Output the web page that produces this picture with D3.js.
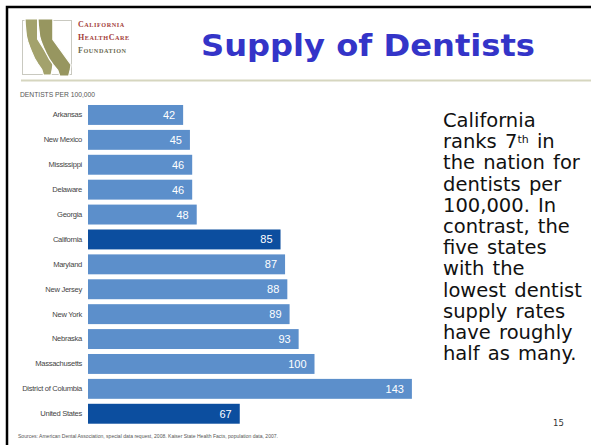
<!DOCTYPE html>
<html>
<head>
<meta charset="utf-8">
<script src="https://cdn.jsdelivr.net/npm/d3@7"></script>
<style>
  html, body { margin: 0; padding: 0; background: #fff; }
  svg { display: block; }
</style>
</head>
<body>
<svg id="slide" width="591" height="445"></svg>
<script>
// Dentists per 100,000 population, by state
const states = ["Arkansas", "New Mexico", "Mississippi", "Delaware", "Georgia", "California",
  "Maryland", "New Jersey", "New York", "Nebraska", "Massachusetts", "District of Columbia", "United States"];
const dentistsPer100k = [42, 45, 46, 46, 48, 85, 87, 88, 89, 93, 100, 143, 67];
const highlighted = ["California", "United States"];

const bodyLines = ["California", "ranks 7|th| in", "the nation for", "dentists per", "100,000. In",
  "contrast, the", "five states", "with the", "lowest dentist", "supply rates", "have roughly", "half as many."];

const data = states.map((s, i) => ({ state: s, value: dentistsPer100k[i] }));

const svg = d3.select("#slide");

// slide frame
svg.append("rect").attr("x", 7).attr("y", 7).attr("width", 600).attr("height", 460)
  .attr("fill", "none").attr("stroke", "#000").attr("stroke-width", 2.5);
svg.append("line").attr("x1", 21).attr("x2", 591).attr("y1", 80.5).attr("y2", 80.5)
  .attr("stroke", "#d6d6bf").attr("stroke-width", 2);

// foundation logo: frame plus two overlapping outlines of the state
const logo = svg.append("g");
logo.append("rect").attr("x", 22.5).attr("y", 20.5).attr("width", 49).attr("height", 54)
  .attr("fill", "none").attr("stroke", "#c9c9c0").attr("stroke-width", 1);
const caOutline = [[0, 0], [0.45, 0], [0.45, 0.36], [1, 0.8], [0.98, 0.88], [0.93, 1], [0.66, 1],
  [0.6, 0.9], [0.46, 0.8], [0.34, 0.7], [0.25, 0.6], [0.17, 0.5], [0.1, 0.4], [0.05, 0.3],
  [0.03, 0.2], [0.01, 0.1]];
function drawState(x0, y0, w, h, fill) {
  logo.append("path")
    .attr("d", d3.line()(caOutline.map(([u, v]) => [x0 + u * w, y0 + v * h])) + "Z")
    .attr("fill", fill).attr("stroke", "#fff").attr("stroke-width", 1.2);
}
drawState(25, 19, 28, 56, "#a3a26c");
drawState(38, 19, 33, 57, "#979660");
[["California", 27, "#a3403a"], ["HealthCare", 39.5, "#a3403a"], ["Foundation", 52.5, "#6a6a50"]].forEach(([t, y, c]) => {
  const tx = logo.append("text").attr("x", 78).attr("y", y)
    .attr("font-family", "'Liberation Serif', serif").attr("font-weight", "bold")
    .attr("letter-spacing", 0.55).attr("fill", c);
  // small caps: capital letters larger than the rest
  t.split("").forEach(ch => {
    const cap = ch === ch.toUpperCase();
    tx.append("tspan").attr("font-size", cap ? 8 : 6.2).text(ch.toUpperCase());
  });
});

// title
svg.append("text").attr("x", 201).attr("y", 56)
  .attr("font-family", "'DejaVu Sans', Verdana, sans-serif").attr("font-weight", "bold")
  .attr("font-size", 30).attr("fill", "#3434c8")
  .attr("textLength", 334).attr("lengthAdjust", "spacingAndGlyphs")
  .text("Supply of Dentists");

// chart
const x = d3.scaleLinear().domain([0, 143]).range([88, 411.9]);
const y = d3.scaleBand().domain(states).range([102.5, 426.2]).paddingInner(0.2).paddingOuter(0.1);

svg.append("text").attr("x", 20).attr("y", 97).text("DENTISTS PER 100,000")
  .attr("font-family", "'Liberation Sans', sans-serif")
  .attr("font-size", 6.5).attr("fill", "#555")
  .attr("textLength", 75).attr("lengthAdjust", "spacingAndGlyphs");

const chart = svg.append("g");
chart.selectAll("rect.bar").data(data).join("rect")
  .attr("class", "bar")
  .attr("x", x(0)).attr("y", d => y(d.state))
  .attr("width", d => x(d.value) - x(0)).attr("height", y.bandwidth())
  .attr("fill", d => highlighted.includes(d.state) ? "#0c4e9f" : "#5c8fcb");

chart.selectAll("text.val").data(data).join("text")
  .attr("class", "val")
  .attr("x", d => x(d.value) - 8).attr("y", d => y(d.state) + y.bandwidth() / 2 + 4)
  .attr("text-anchor", "end").attr("fill", "#fff")
  .attr("font-family", "'Liberation Sans', Arial, sans-serif").attr("font-size", 11)
  .text(d => d.value);

const yAxis = d3.axisLeft(y).tickSize(0).tickPadding(6);
const ag = chart.append("g").attr("transform", `translate(${x(0)},0)`).call(yAxis);
ag.select(".domain").remove();
ag.selectAll("text").attr("font-family", "'Liberation Sans', sans-serif")
  .attr("font-size", 7.6).attr("fill", "#444").attr("letter-spacing", -0.3);

// source note
svg.append("text").attr("x", 18).attr("y", 438)
  .attr("font-family", "'Liberation Sans', sans-serif")
  .attr("font-size", 5).attr("fill", "#555")
  .attr("textLength", 260).attr("lengthAdjust", "spacingAndGlyphs")
  .text("Sources: American Dental Association, special data request, 2008. Kaiser State Health Facts, population data, 2007.");

// commentary text
const body = svg.append("text").attr("font-family", "'DejaVu Sans', Verdana, sans-serif")
  .attr("font-size", 19.5).attr("fill", "#111").attr("word-spacing", 2);
bodyLines.forEach((line, i) => {
  const t = body.append("tspan").attr("x", 443).attr("y", 127 + i * 21.2);
  line.split("|").forEach((part, j) => {
    const s = t.append("tspan").text(part);
    if (j === 1) s.attr("font-size", 11).attr("dy", -5.5);
    if (j === 2) s.attr("dy", 5.5);
  });
});

svg.append("text").attr("x", 553).attr("y", 426).attr("font-family", "'DejaVu Sans', Verdana, sans-serif")
  .attr("font-size", 8.5).attr("fill", "#333").text("15");
</script>
</body>
</html>
